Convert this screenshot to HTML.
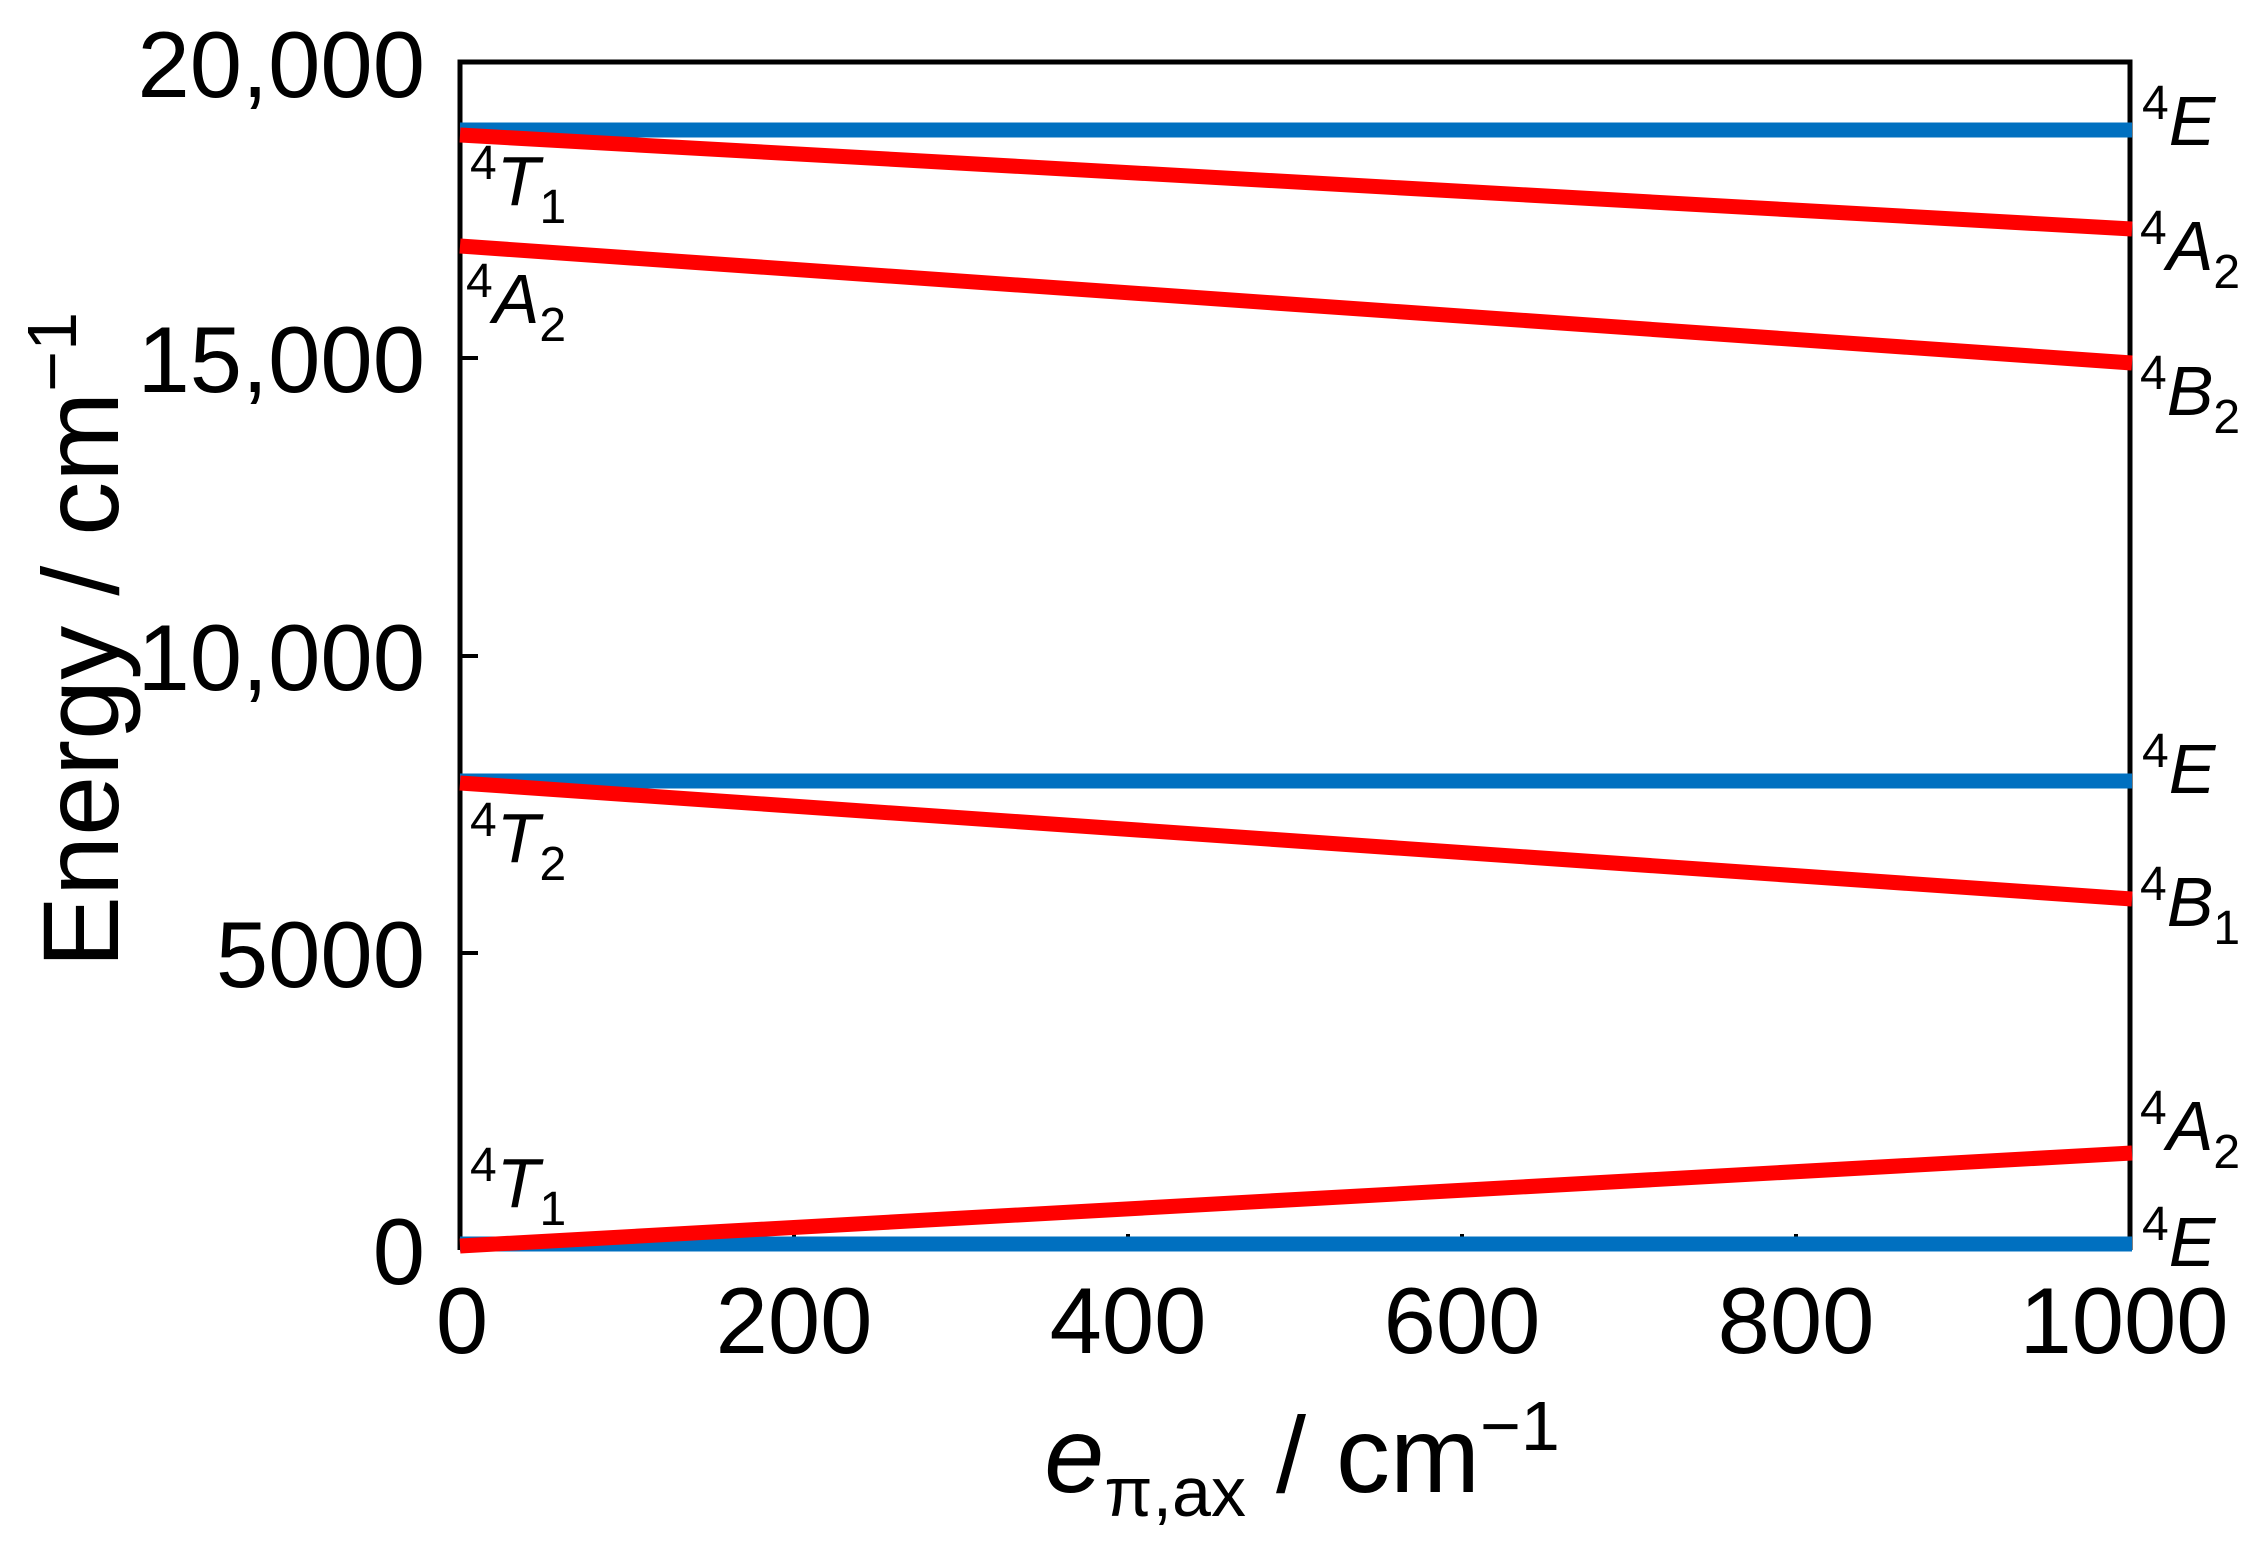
<!DOCTYPE html>
<html><head><meta charset="utf-8"><style>
html,body{margin:0;padding:0;background:#fff}
svg{display:block}
text{font-family:"Liberation Sans",sans-serif;fill:#000}
.t{font-size:94px}
.s{font-size:70px;font-style:italic}
.sup{font-size:48px;font-style:normal}
.sub{font-size:48px;font-style:normal}
</style></head><body>
<svg width="2265" height="1563" viewBox="0 0 2265 1563" xmlns="http://www.w3.org/2000/svg">
<!-- frame -->
<path d="M460,1250 V62 H2130 V1250" fill="none" stroke="#000" stroke-width="5"/>
<!-- ticks -->
<g stroke="#000" stroke-width="4">
<line x1="460" y1="358" x2="478" y2="358"/>
<line x1="460" y1="656" x2="478" y2="656"/>
<line x1="460" y1="953" x2="478" y2="953"/>
<line x1="794" y1="1250" x2="794" y2="1234"/>
<line x1="1128" y1="1250" x2="1128" y2="1234"/>
<line x1="1462" y1="1250" x2="1462" y2="1234"/>
<line x1="1796" y1="1250" x2="1796" y2="1234"/>
</g>
<!-- lines -->
<g stroke-width="15" stroke-linecap="butt">
<line x1="460" y1="130" x2="2132" y2="130" stroke="#0070C0"/>
<line x1="460" y1="781" x2="2132" y2="781" stroke="#0070C0"/>
<line x1="460" y1="1244" x2="2132" y2="1244" stroke="#0070C0"/>
<line x1="460" y1="135" x2="2132" y2="229" stroke="#FF0000"/>
<line x1="460" y1="246" x2="2132" y2="363" stroke="#FF0000"/>
<line x1="460" y1="783" x2="2132" y2="899" stroke="#FF0000"/>
<line x1="460" y1="1246" x2="2132" y2="1153" stroke="#FF0000"/>
</g>
<!-- y tick labels -->
<g class="t" text-anchor="end">
<text x="425" y="97">20,000</text>
<text x="425" y="392">15,000</text>
<text x="425" y="690">10,000</text>
<text x="425" y="987">5000</text>
<text x="425" y="1284">0</text>
</g>
<!-- x tick labels -->
<g class="t" text-anchor="middle">
<text x="462" y="1353">0</text>
<text x="794" y="1353">200</text>
<text x="1128" y="1353">400</text>
<text x="1462" y="1353">600</text>
<text x="1796" y="1353">800</text>
<text x="2124" y="1353">1000</text>
</g>
<!-- axis titles -->
<text transform="translate(118,640) rotate(-90)" text-anchor="middle" font-size="108">Energy / cm<tspan font-size="70" dy="-42">−1</tspan></text>
<text x="1302" y="1492" text-anchor="middle" font-size="108"><tspan font-style="italic">e</tspan><tspan font-size="70" dy="24">π,ax</tspan><tspan dy="-24"> / cm</tspan><tspan font-size="70" dy="-42">−1</tspan></text>
<!-- state labels left -->
<g class="s">
<text x="470" y="205"><tspan class="sup" dy="-26">4</tspan><tspan dy="26">T</tspan><tspan class="sub" dy="18">1</tspan></text>
<text x="466" y="323"><tspan class="sup" dy="-26">4</tspan><tspan dy="26">A</tspan><tspan class="sub" dy="18">2</tspan></text>
<text x="470" y="862"><tspan class="sup" dy="-26">4</tspan><tspan dy="26">T</tspan><tspan class="sub" dy="18">2</tspan></text>
<text x="470" y="1207"><tspan class="sup" dy="-26">4</tspan><tspan dy="26">T</tspan><tspan class="sub" dy="18">1</tspan></text>
<!-- right -->
<text x="2142" y="145"><tspan class="sup" dy="-26">4</tspan><tspan dy="26">E</tspan></text>
<text x="2140" y="270"><tspan class="sup" dy="-26">4</tspan><tspan dy="26">A</tspan><tspan class="sub" dy="18">2</tspan></text>
<text x="2140" y="415"><tspan class="sup" dy="-26">4</tspan><tspan dy="26">B</tspan><tspan class="sub" dy="18">2</tspan></text>
<text x="2142" y="793"><tspan class="sup" dy="-26">4</tspan><tspan dy="26">E</tspan></text>
<text x="2140" y="926"><tspan class="sup" dy="-26">4</tspan><tspan dy="26">B</tspan><tspan class="sub" dy="18">1</tspan></text>
<text x="2140" y="1150"><tspan class="sup" dy="-26">4</tspan><tspan dy="26">A</tspan><tspan class="sub" dy="18">2</tspan></text>
<text x="2142" y="1266"><tspan class="sup" dy="-26">4</tspan><tspan dy="26">E</tspan></text>
</g>
</svg>
</body></html>
